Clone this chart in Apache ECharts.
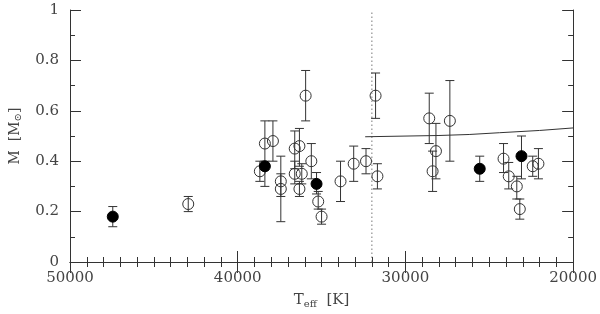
<!DOCTYPE html>
<html><head><meta charset="utf-8">
<script src="https://cdn.jsdelivr.net/npm/echarts@6/dist/echarts.min.js"></script>
<style>html,body{margin:0;padding:0;background:#fff}#c{width:600px;height:314px}</style>
</head><body><div id="c"></div>
<script>
// Open circles: [Teff, M, Mlow, Mhigh]
const openStars = [
  [42950, 0.23, 0.20, 0.26],
  [38680, 0.36, 0.32, 0.40],
  [38380, 0.47, 0.38, 0.56],
  [37900, 0.48, 0.40, 0.56],
  [37430, 0.32, 0.16, 0.42],
  [37430, 0.29, 0.26, 0.35],
  [36600, 0.45, 0.37, 0.52],
  [36320, 0.46, 0.38, 0.53],
  [36600, 0.35, 0.31, 0.40],
  [36180, 0.35, 0.31, 0.39],
  [36320, 0.29, 0.26, 0.32],
  [35950, 0.66, 0.56, 0.76],
  [35610, 0.40, 0.33, 0.47],
  [35200, 0.24, 0.21, 0.28],
  [35000, 0.18, 0.15, 0.21],
  [33870, 0.32, 0.24, 0.40],
  [33085, 0.39, 0.32, 0.46],
  [32350, 0.40, 0.35, 0.45],
  [31780, 0.66, 0.57, 0.75],
  [31670, 0.34, 0.29, 0.39],
  [28580, 0.57, 0.47, 0.67],
  [28380, 0.36, 0.28, 0.44],
  [28180, 0.44, 0.33, 0.55],
  [27350, 0.56, 0.40, 0.72],
  [24150, 0.41, 0.355, 0.47],
  [23840, 0.34, 0.29, 0.395],
  [23360, 0.30, 0.25, 0.34],
  [23180, 0.21, 0.17, 0.25],
  [22410, 0.38, 0.34, 0.42],
  [22070, 0.39, 0.33, 0.45]
];
// Filled circles: [Teff, M, Mlow, Mhigh]
const filledStars = [
  [47450, 0.18, 0.14, 0.22],
  [38380, 0.38, 0.30, 0.40],
  [35300, 0.31, 0.27, 0.355],
  [25570, 0.37, 0.32, 0.42],
  [23080, 0.42, 0.33, 0.50]
];
// Solid curve
const curve = [[32400, 0.497], [28000, 0.502], [26200, 0.506], [24400, 0.513], [22000, 0.522], [20000, 0.532]];
// Dotted vertical divider
const dividerT = 32000;
const dividerLine = [[dividerT, 0], [dividerT, 1]];
// Axis ranges/ticks
const xMin = 20000, xMax = 50000, xInterval = 10000;
const yMin = 0, yMax = 1, yInterval = 0.2;

const INK = '#333';
const FONT = 'DejaVu Serif';

function errRender(params, api) {
  const x = api.value(0), lo = api.value(2), hi = api.value(3);
  const a = api.coord([x, lo]), b = api.coord([x, hi]);
  const w = 4.5;
  const st = {stroke: INK, lineWidth: 1};
  return {type: 'group', children: [
    {type: 'line', shape: {x1: a[0], y1: a[1], x2: b[0], y2: b[1]}, style: st},
    {type: 'line', shape: {x1: a[0]-w, y1: a[1], x2: a[0]+w, y2: a[1]}, style: st},
    {type: 'line', shape: {x1: b[0]-w, y1: b[1], x2: b[0]+w, y2: b[1]}, style: st}
  ]};
}

const chart = echarts.init(document.getElementById('c'), null, {renderer: 'canvas'});
const tickCommon = {
  axisLine: {show: true, lineStyle: {color: INK, width: 1}},
  splitLine: {show: false},
};
chart.setOption({
  animation: false,
  backgroundColor: '#fff',
  grid: {left: 68, right: 26, top: 10, bottom: 51},
  xAxis: [{
    type: 'value', min: xMin, max: xMax, interval: xInterval, inverse: true,
    ...tickCommon,
    axisTick: {show: true, inside: true, length: 11, lineStyle: {color: INK}},
    minorTick: {show: true, splitNumber: 10, length: 5, lineStyle: {color: INK}},
    axisLabel: {color: '#444', fontFamily: FONT, fontSize: 15, margin: 9,
      formatter: v => String(v)},
    name: '{t|T}{s|eff}{t|  [K]}', nameLocation: 'middle', nameGap: 29,
    nameTextStyle: {rich: {
      t: {fontFamily: FONT, fontSize: 15, color: '#444'},
      s: {fontFamily: FONT, fontSize: 10, color: '#444', verticalAlign: 'bottom', padding: [8, 0, 0, 0]}
    }}
  }, {
    type: 'value', min: xMin, max: xMax, interval: xInterval, inverse: true, position: 'top',
    ...tickCommon,
    axisTick: {show: true, inside: true, length: 11, lineStyle: {color: INK}},
    minorTick: {show: true, splitNumber: 10, length: 5, lineStyle: {color: INK}},
    axisLabel: {show: false}
  }],
  yAxis: [{
    type: 'value', min: yMin, max: yMax, interval: yInterval,
    ...tickCommon,
    axisTick: {show: true, inside: true, length: 11, lineStyle: {color: INK}},
    minorTick: {show: true, splitNumber: 2, length: 5, lineStyle: {color: INK}},
    axisLabel: {color: '#444', fontFamily: FONT, fontSize: 15, margin: 11,
      formatter: v => String(Math.round(v * 10) / 10)},
    name: '{t|M  [M}{s|⊙}{t|]}', nameLocation: 'middle', nameGap: 47, nameRotate: 90,
    nameTextStyle: {rich: {
      t: {fontFamily: FONT, fontSize: 14, color: '#444'},
      s: {fontFamily: FONT, fontSize: 10, color: '#444', verticalAlign: 'bottom', padding: [6, 0, 0, 0]}
    }}
  }, {
    type: 'value', min: yMin, max: yMax, interval: yInterval, position: 'right',
    ...tickCommon,
    axisTick: {show: true, inside: true, length: 11, lineStyle: {color: INK}},
    minorTick: {show: true, splitNumber: 2, length: 5, lineStyle: {color: INK}},
    axisLabel: {show: false}
  }],
  series: [
    {type: 'line', data: dividerLine, symbol: 'none', silent: true,
     lineStyle: {color: '#555', width: 0.8, type: [1.5, 2.5]}, z: 1},
    {type: 'line', data: curve, symbol: 'none', silent: true,
     lineStyle: {color: INK, width: 1}, z: 1},
    {type: 'custom', data: openStars, renderItem: errRender, encode: {x: 0, y: 1}, z: 2},
    {type: 'custom', data: filledStars, renderItem: errRender, encode: {x: 0, y: 1}, z: 2},
    {type: 'scatter', data: openStars.map(d => [d[0], d[1]]), symbol: 'circle', symbolSize: 11,
     itemStyle: {color: 'rgba(0,0,0,0)', borderColor: INK, borderWidth: 1, opacity: 1}, z: 3},
    {type: 'scatter', data: filledStars.map(d => [d[0], d[1]]), symbol: 'circle', symbolSize: 11,
     itemStyle: {color: '#000', borderColor: '#000', borderWidth: 1, opacity: 1}, z: 4}
  ]
});
</script>
</body></html>
